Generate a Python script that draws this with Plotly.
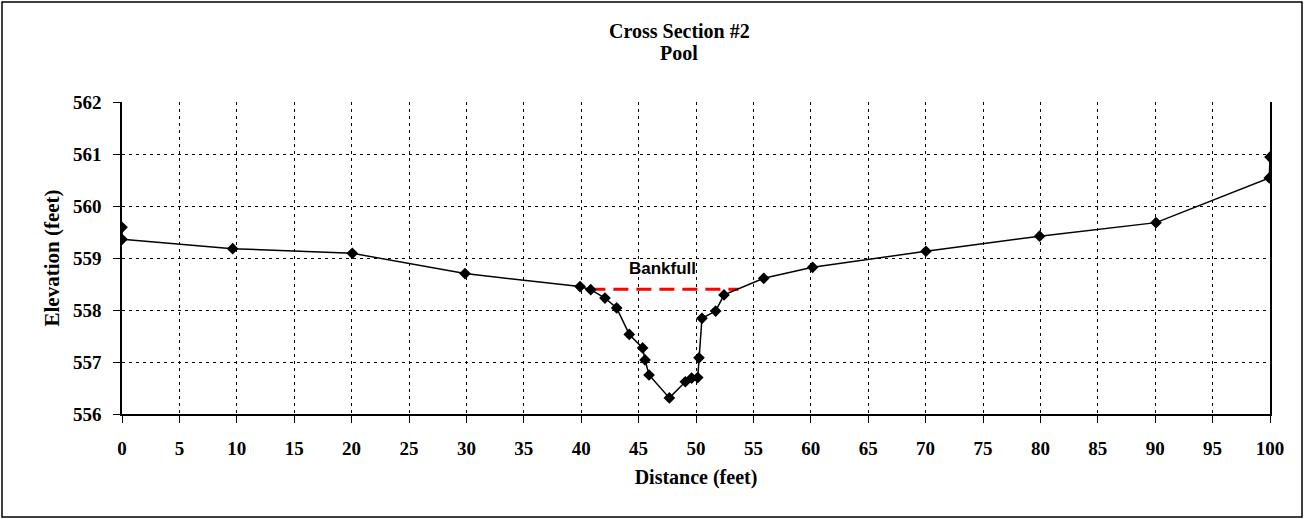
import plotly.graph_objects as go

distance = [0, 0, 9.64, 20.06, 29.88, 39.9, 40.83, 42.07, 43.09, 44.19, 45.35, 45.56, 45.91,
            47.68, 49.07, 49.62, 50.15, 50.26, 50.52, 51.71, 52.44, 55.9, 60.16, 70.03,
            79.93, 90.07, 99.94, 100]
elevation = [559.59, 559.36, 559.18, 559.09, 558.70, 558.45, 558.39, 558.23, 558.04, 557.53,
             557.27, 557.04, 556.75, 556.31, 556.62, 556.69, 556.70, 557.08, 557.84, 557.98,
             558.29, 558.61, 558.82, 559.13, 559.42, 559.68, 560.54, 560.94]
bankfull_x = [40.8, 53.7]
bankfull_y = [558.4, 558.4]
x_ticks = list(range(0, 101, 5))
y_ticks = [556, 557, 558, 559, 560, 561, 562]

serif = "Liberation Serif, Times New Roman, serif"

L, R, T, B = 122, 34, 102, 105
W, H = 1304, 519
pw, ph = W - L - R, H - T - B

def px_x(p):
    return (p - L) / pw

def px_y(p):
    return (H - B - p) / ph

fig = go.Figure()
fig.add_trace(go.Scatter(x=bankfull_x, y=bankfull_y, mode="lines",
                         line=dict(color="#ff0000", width=3, dash="15px,8px"),
                         showlegend=False, hoverinfo="skip"))
fig.add_trace(go.Scatter(x=distance, y=elevation, mode="lines+markers",
                         line=dict(color="black", width=1.5),
                         marker=dict(symbol="diamond", size=9, color="black"),
                         showlegend=False))

fig.add_annotation(x=47.1, y=558.8, text="<b>Bankfull</b>", showarrow=False,
                   font=dict(family="Liberation Sans, Arial, sans-serif", size=17, color="black"))

fig.add_annotation(xref="paper", yref="paper", x=px_x(679), y=px_y(31),
                   text="<b>Cross Section #2</b>", showarrow=False,
                   xanchor="center", yanchor="middle",
                   font=dict(family=serif, size=20, color="black"))
fig.add_annotation(xref="paper", yref="paper", x=px_x(679), y=px_y(53),
                   text="<b>Pool</b>", showarrow=False,
                   xanchor="center", yanchor="middle",
                   font=dict(family=serif, size=20, color="black"))

fig.add_shape(type="rect", xref="paper", yref="paper",
              x0=px_x(2), x1=px_x(1302), y0=px_y(517), y1=px_y(2),
              line=dict(color="black", width=1.5), layer="below")

fig.update_layout(
    width=W, height=H,
    margin=dict(l=L, r=R, t=T, b=B),
    paper_bgcolor="white", plot_bgcolor="white",
    xaxis=dict(range=[0, 100], tickvals=x_ticks, ticktext=[f"<b>{v}</b>" for v in x_ticks],
               showgrid=True, gridcolor="black", griddash="3px,4px", gridwidth=1,
               showline=True, linecolor="black", linewidth=1.5,
               ticks="outside", ticklen=7, tickcolor="black", ticklabelstandoff=9,
               tickfont=dict(family=serif, size=19, color="black"),
               title=dict(text="<b>Distance (feet)</b>", standoff=12,
                          font=dict(family=serif, size=20, color="black")),
               zeroline=False),
    yaxis=dict(range=[556, 562], tickvals=y_ticks, ticktext=[f"<b>{v}</b>" for v in y_ticks],
               showgrid=True, gridcolor="black", griddash="3px,4px", gridwidth=1,
               showline=True, linecolor="black", linewidth=1.5, mirror=True,
               ticks="outside", ticklen=7, tickcolor="black", ticklabelstandoff=8,
               tickfont=dict(family=serif, size=19, color="black"),
               title=dict(text="<b>Elevation (feet)</b>", standoff=8,
                          font=dict(family=serif, size=21, color="black")),
               zeroline=False),
)

fig.write_html("out.html")
